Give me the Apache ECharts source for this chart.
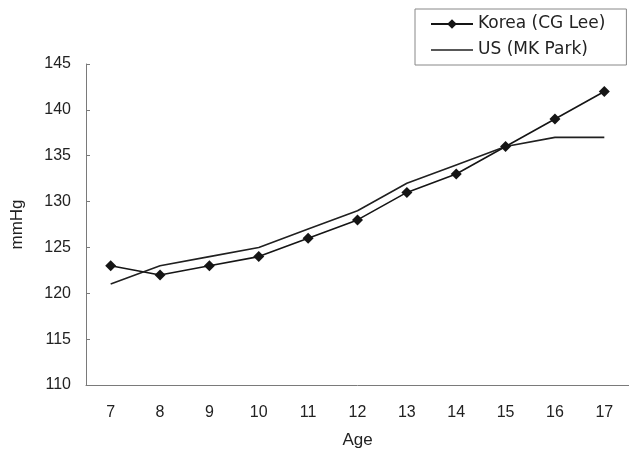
<!DOCTYPE html>
<html>
<head>
<meta charset="utf-8">
<script src="https://cdn.jsdelivr.net/npm/echarts@6/dist/echarts.min.js"></script>
<style>
html,body{margin:0;padding:0;background:#fff;}
#main{width:629px;height:454px;}
</style>
</head>
<body>
<div id="main"></div>
<script>
var ages = ['7','8','9','10','11','12','13','14','15','16','17'];
var korea = [123,122,123,124,126,128,131,133,136,139,142];
var us = [121,123,124,125,127,129,132,134,136,137,137];
var yTicks = {min:110, max:145, interval:5};
var seriesNames = ['Korea (CG Lee)','US (MK Park)'];

var chart = echarts.init(document.getElementById('main'));
var axisColor = '#7a7a7a';
var textColor = '#222';
chart.setOption({
  animation:false,
  backgroundColor:'#fff',
  grid:{left:86, top:64, right:-4, bottom:69},
  legend:{
    orient:'vertical',
    left:415, top:9,
    padding:[5,21,5,15],
    itemGap:6,
    itemWidth:42, itemHeight:12,
    borderColor:'#888', borderWidth:1,
    textStyle:{fontFamily:'DejaVu Sans', fontSize:17, color:textColor, lineHeight:20},
    data:[
      {name:seriesNames[0]},
      {name:seriesNames[1], icon:'path://M0,0H42V1.6H0Z', itemStyle:{color:'#202020'}}
    ]
  },
  xAxis:{
    type:'category',
    data:ages,
    boundaryGap:true,
    name:'Age',
    nameLocation:'middle',
    nameGap:47,
    nameTextStyle:{fontFamily:'Liberation Sans', fontSize:17, color:textColor},
    axisLine:{lineStyle:{color:axisColor, width:1}},
    axisTick:{inside:true, length:5, lineStyle:{color:axisColor}},
    axisLabel:{margin:20, fontFamily:'Liberation Sans', fontSize:16, color:textColor}
  },
  yAxis:{
    type:'value',
    min:yTicks.min, max:yTicks.max, interval:yTicks.interval,
    name:'mmHg',
    nameLocation:'middle',
    nameGap:60,
    nameRotate:90,
    nameTextStyle:{fontFamily:'Liberation Sans', fontSize:17, color:textColor},
    axisLine:{show:true, lineStyle:{color:axisColor, width:1}},
    axisTick:{show:true, inside:true, length:4, lineStyle:{color:axisColor}},
    splitLine:{show:false},
    axisLabel:{margin:15, fontFamily:'Liberation Sans', fontSize:16, color:textColor}
  },
  series:[
    {
      name:seriesNames[0],
      type:'line',
      data:korea,
      symbol:'diamond',
      symbolSize:11,
      lineStyle:{color:'#151515', width:1.6},
      itemStyle:{color:'#151515'}
    },
    {
      name:seriesNames[1],
      type:'line',
      data:us,
      symbol:'none',
      lineStyle:{color:'#202020', width:1.6},
      itemStyle:{color:'#202020'}
    }
  ]
});
</script>
</body>
</html>
